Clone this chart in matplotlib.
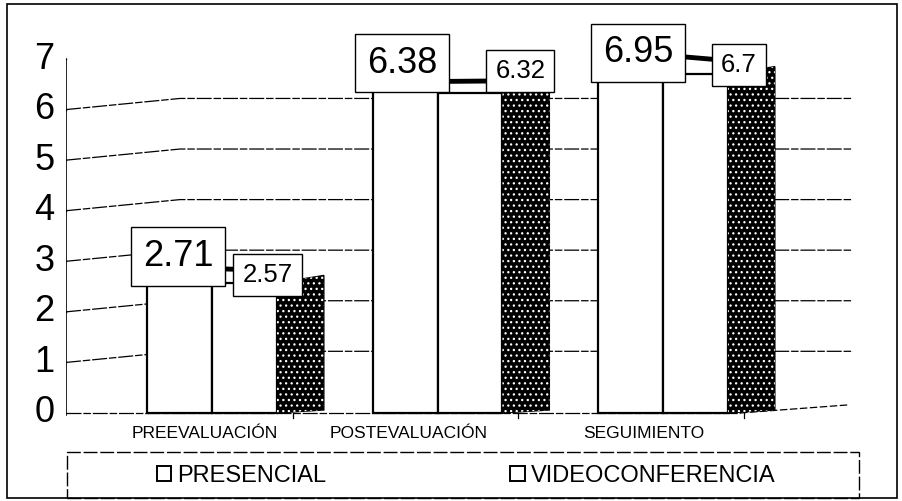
import matplotlib
matplotlib.use("Agg")
import matplotlib.pyplot as plt
from matplotlib.patches import Patch, Rectangle

plt.rcParams['font.family'] = ['Liberation Sans', 'DejaVu Sans']
plt.rcParams['hatch.linewidth'] = 0.9

# ---- data ----
categories = ["PREEVALUACIÓN", "POSTEVALUACIÓN", "SEGUIMIENTO"]
presencial = [2.71, 6.38, 6.95]
videoconf = [2.57, 6.32, 6.70]
series_names = ["PRESENCIAL", "VIDEOCONFERENCIA"]
yticks = [0, 1, 2, 3, 4, 5, 6, 7]

# ---- style / layout ----
W, H = 902, 501
fig = plt.figure(figsize=(W / 100, H / 100), dpi=100)
PX_UNIT = 50.57           # pixels per value unit
Y0_PX = 413               # pixel row of value 0
GX0, GSTEP = 212, 225.5   # pixel of first group center, group spacing
ylo, yhi = -1.0, 8.0
xl_px, xr_px = 66, 855
ax = fig.add_axes([xl_px / W, (H - (Y0_PX - ylo * PX_UNIT)) / H,
                   (xr_px - xl_px) / W, (yhi - ylo) * PX_UNIT / H])
xlo = (xl_px - GX0) / GSTEP
xhi = (xr_px - GX0) / GSTEP
ax.set_xlim(xlo, xhi)
ax.set_ylim(ylo, yhi)
ax.axis('off')

bw = 0.288      # white bar width
dw = 0.208      # dark depth face width
dz = 0.15       # depth rise
x_back = (180 - GX0) / GSTEP
x_end = (853 - GX0) / GSTEP
grid_ls = (0, (12, 1.5, 6, 1.5))

# back-wall gridlines
for v in yticks[1:-1]:
    ax.plot([xlo, x_back, x_end], [v, v + 0.22, v + 0.22], color='black',
            lw=0.9, ls=grid_ls, zorder=1)

# floor
x_floor_end = (740 - GX0) / GSTEP
ax.plot([xlo, x_floor_end], [0, 0], color='black', lw=0.9, ls=grid_ls, zorder=1)
ax.plot([x_floor_end, (848 - GX0) / GSTEP], [0, 0.16], color='black', lw=0.9,
        ls=(0, (6, 2)), zorder=1)
for i in range(len(categories)):
    xt = i + bw + 0.07
    ax.plot([xt, xt], [0, -0.1], color='black', lw=0.9, zorder=1)

# y axis
ax.plot([xlo, xlo], [-0.03, 7], color='black', lw=1.2, zorder=3)
for v in yticks:
    ax.plot([xlo - 0.022, xlo], [v, v], color='black', lw=1.0, zorder=3)
    ax.text(xlo - 0.05, v, str(v), ha='right', va='center', fontsize=26)

# bars
for i in range(len(categories)):
    ax.bar(i - bw, presencial[i], width=bw, align='edge', facecolor='white',
           edgecolor='black', lw=1.6, zorder=4)
    ax.bar(i, videoconf[i], width=bw, align='edge', facecolor='white',
           edgecolor='black', lw=1.6, zorder=4)
    x0 = i + bw
    x1 = x0 + dw
    v = videoconf[i]
    xs = [x0, x1, x1, x0]
    ys = [0, dz * 0.4, v + dz, v]
    ax.fill(xs, ys, facecolor='black', edgecolor='black', lw=1.0, zorder=5)
    ax.fill(xs, ys, facecolor='none', edgecolor='white', hatch='...',
            lw=0, zorder=6)

# category labels
cat_dx = [-0.031, -0.126, -0.084]
for i, c in enumerate(categories):
    ax.text(i + cat_dx[i], -0.40, c, ha='center', va='center', fontsize=12.5)

# data labels
big_dx = [-0.151, -0.156, -0.111]
big_dy = [0.39, 0.54, 0.17]
small_dx = [0.246, 0.368, 0.337]
small_dy = [0.16, 0.44, 0.18]
for i in range(len(categories)):
    bx, by = i + big_dx[i], presencial[i] + big_dy[i]
    sx, sy = i + small_dx[i], videoconf[i] + small_dy[i]
    ax.plot([bx, sx], [presencial[i] + 0.17, videoconf[i] + 0.25],
            color='black', lw=3.5, solid_capstyle='butt', zorder=7)
    ax.text(bx, by, f"{presencial[i]:g}", ha='center', va='center',
            fontsize=26, zorder=9,
            bbox=dict(boxstyle='square,pad=0.33', facecolor='white',
                      edgecolor='black', lw=1.0))
    ax.text(sx, sy, f"{videoconf[i]:g}", ha='center', va='center',
            fontsize=18.5, zorder=9,
            bbox=dict(boxstyle='square,pad=0.35', facecolor='white',
                      edgecolor='black', lw=1.0))

# outer frame and legend frame
fig.patches.append(Rectangle((7 / W, (H - 498) / H), 890 / W, 494 / H,
                             transform=fig.transFigure, fill=False,
                             edgecolor='black', lw=1.2))
fig.patches.append(Rectangle((67 / W, (H - 498) / H), 792 / W, 46 / H,
                             transform=fig.transFigure, fill=False,
                             edgecolor='black', lw=1.0, ls=(0, (10, 2))))
handles = [Patch(facecolor='white', edgecolor='black', lw=1.4) for _ in series_names]
fig.legend(handles, series_names, ncol=2, loc='center',
           bbox_to_anchor=(466 / W, (H - 476) / H), frameon=False,
           fontsize=17, handlelength=0.6, handleheight=0.6,
           handletextpad=0.25, columnspacing=7.8)

fig.savefig("out.png", dpi=100)
